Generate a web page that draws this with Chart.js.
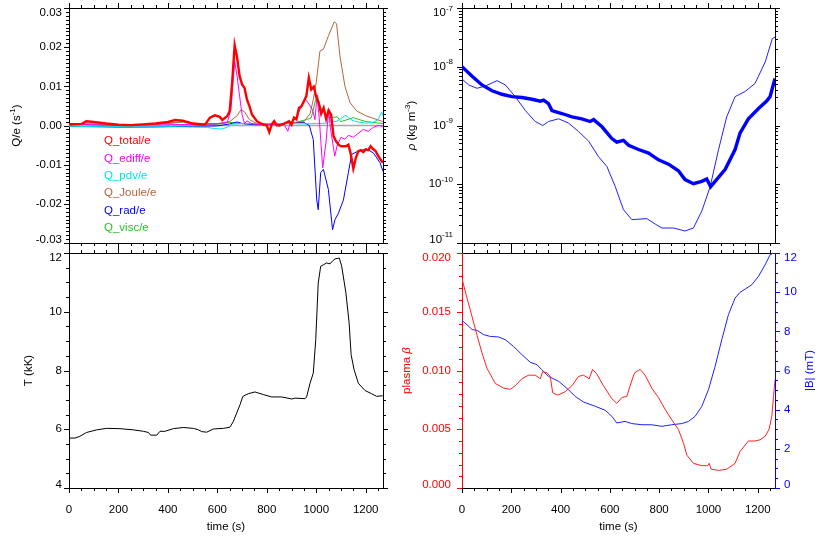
<!DOCTYPE html>
<html>
<head>
<meta charset="utf-8">
<script src="https://cdn.jsdelivr.net/npm/chart.js@4.4.1/dist/chart.umd.min.js"></script>
<style>
  html, body { margin: 0; padding: 0; background: #fff; }
  #wrap { position: relative; width: 830px; height: 544px; overflow: hidden; }
  .panel { position: absolute; }
</style>
</head>
<body>
<div id="wrap">
  <div class="panel" style="left:0;top:0;width:415px;height:250px"><canvas id="cQ"></canvas></div>
  <div class="panel" style="left:395px;top:0;width:435px;height:250px"><canvas id="cRho"></canvas></div>
  <div class="panel" style="left:0;top:245px;width:415px;height:299px"><canvas id="cT"></canvas></div>
  <div class="panel" style="left:395px;top:245px;width:435px;height:299px"><canvas id="cB"></canvas></div>
</div>
<script>
// ── Ticks ──────────────────────────────────────────────────────────────
const timeTicks = [0, 200, 400, 600, 800, 1000, 1200];
const qTicks    = [-0.03, -0.02, -0.01, 0, 0.01, 0.02, 0.03];
const rhoTicks  = [1e-11, 1e-10, 1e-9, 1e-8, 1e-7];
const tempTicks = [4, 6, 8, 10, 12];
const betaTicks = [0, 0.005, 0.01, 0.015, 0.02];
const bTicks    = [0, 2, 4, 6, 8, 10, 12];

// ── Q/e (s^-1) ─────────────────────────────────────────────────────────
const qLabels = ['Q_total/e', 'Q_ediff/e', 'Q_pdv/e', 'Q_Joule/e', 'Q_rad/e', 'Q_visc/e'];

const qTotalT = [0,50,70,100,150,200,250,300,350,400,430,460,500,550,570,590,610,620,640,650,
  660,670,680,690,700,710,720,730,740,760,780,800,810,820,830,840,850,870,890,900,
  910,920,930,940,950,960,970,980,990,1000,1010,1020,1030,1040,1050,1060,1070,1080,1090,1100,
  1110,1120,1130,1140,1150,1160,1170,1180,1190,1200,1210,1220,1230,1240,1250,1260,1270];
const qTotalV = [0.0003,0.0004,0.0011,0.0009,0.0005,0.0002,0.0001,0.0003,0.0005,0.0009,0.0014,0.0012,0.0005,0.0002,0.0020,0.0026,0.0022,0.0014,0.0024,0.0037,
  0.0110,0.0205,0.0173,0.0126,0.0105,0.0096,0.0066,0.0049,0.0028,0.0011,0.0004,0.0000,-0.0017,0.0003,0.0011,0.0001,0.0000,0.0005,0.0011,0.0002,
  0.0020,0.0016,0.0045,0.0049,0.0062,0.0075,0.0122,0.0092,0.0099,0.0073,0.0058,0.0030,0.0045,0.0017,0.0039,0.0028,-0.0027,-0.0040,-0.0049,-0.0053,
  -0.0053,-0.0053,-0.0049,-0.0074,-0.0110,-0.0083,-0.0066,-0.0063,-0.0068,-0.0061,-0.0063,-0.0053,-0.0060,-0.0065,-0.0077,-0.0087,-0.0095];

const qEdiffT = [0,100,200,300,400,500,600,640,655,670,680,690,700,710,720,740,800,870,885,895,
  920,940,955,970,985,995,1003,1012,1026,1040,1050,1058,1075,1085,1100,1115,1130,1150,1170,1190,1210,1230,1250,1270];
const qEdiffV = [0.0003,0.0002,0.0000,0.0001,0.0002,0.0003,0.0004,0.0008,0.0040,0.0164,0.0126,0.0075,0.0028,0.0005,0.0012,0.0004,0.0002,0.0003,-0.0015,0.0008,
  0.0020,0.0050,0.0068,0.0055,0.0040,0.0015,0.0078,0.0020,-0.0108,-0.0040,0.0040,-0.0010,-0.0078,-0.0050,-0.0030,-0.0035,-0.0025,-0.0030,-0.0020,-0.0010,-0.0015,-0.0005,0.0000,-0.0002];

const qPdvT = [0,100,200,300,400,500,560,590,620,640,660,700,800,900,950,1000,1040,1060,1080,1100,1120,1140,1160,1200,1230,1250,1265,1270];
const qPdvV = [-0.0002,-0.0003,-0.0003,-0.0004,-0.0003,-0.0004,-0.0005,-0.0008,-0.0009,-0.0004,0.0003,0.0005,0.0004,0.0005,0.0004,0.0005,0.0006,0.0012,0.0010,0.0018,0.0026,0.0015,0.0010,0.0006,0.0008,0.0015,0.0035,0.0025];

const qJouleT = [0,100,200,300,400,460,520,600,650,680,695,710,730,760,850,950,975,988,1000,1015,
  1029,1050,1073,1082,1096,1116,1137,1164,1204,1269];
const qJouleV = [0.0005,0.0004,0.0002,0.0003,0.0006,0.0010,0.0004,0.0005,0.0010,0.0025,0.0040,0.0035,0.0015,0.0005,0.0004,0.0010,0.0030,0.0066,0.0110,0.0190,
  0.0195,0.0230,0.0265,0.0260,0.0177,0.0100,0.0058,0.0037,0.0024,0.0010];

const qRadT = [0,100,200,300,400,500,600,650,680,700,750,800,850,900,950,972,988,1002,1008,1018,
  1029,1049,1066,1076,1089,1110,1130,1143,1170,1204,1231,1258,1270];
const qRadV = [-0.0002,-0.0003,-0.0004,-0.0004,-0.0003,-0.0002,-0.0001,0.0004,0.0009,0.0005,0.0002,0.0002,0.0004,0.0007,0.0008,0.0000,-0.0036,-0.0190,-0.0215,-0.0120,
  -0.0112,-0.0163,-0.0266,-0.0240,-0.0225,-0.0190,-0.0120,-0.0074,-0.0065,-0.0060,-0.0070,-0.0095,-0.0117];

const qViscT = [0,100,200,300,400,450,480,520,600,650,700,760,900,960,980,995,1005,1015,1030,1050,1085,1100,1150,1200,1270];
const qViscV = [0.0005,0.0002,0.0000,0.0002,0.0005,0.0008,0.0010,0.0003,0.0003,0.0008,0.0005,0.0003,0.0005,0.0015,0.0020,0.0060,0.0078,0.0050,0.0035,0.0020,0.0022,0.0010,0.0020,0.0010,0.0005];

// ── rho (kg m^-3) ──────────────────────────────────────────────────────
const rhoThickT = [0,41,81,122,162,203,243,284,318,331,351,365,405,446,486,520,534,568,608,628,
  655,676,716,757,797,838,878,905,939,973,993,1009,1027,1068,1108,1128,1162,1203,1236,1250,1270];
const rhoThickV = [1.0e-8,6.9e-9,4.9e-9,3.9e-9,3.4e-9,3.1e-9,3.0e-9,2.8e-9,2.6e-9,2.7e-9,2.35e-9,1.8e-9,1.6e-9,1.4e-9,1.3e-9,1.17e-9,1.26e-9,9.5e-10,6.0e-10,5.2e-10,
  5.6e-10,4.6e-10,3.9e-10,3.4e-10,2.6e-10,2.2e-10,1.7e-10,1.2e-10,1.02e-10,1.12e-10,1.23e-10,9.1e-11,1.12e-10,1.8e-10,3.9e-10,7.4e-10,1.3e-9,1.95e-9,2.6e-9,3.1e-9,6.3e-9];

const rhoThinT = [0,27,61,95,142,176,216,257,297,328,351,392,432,473,514,554,588,622,655,689,
  750,784,811,858,905,939,973,1007,1041,1074,1108,1149,1189,1230,1259,1270];
const rhoThinV = [6.2e-9,4.9e-9,4.3e-9,4.7e-9,5.8e-9,4.9e-9,3.1e-9,1.8e-9,1.17e-9,1.0e-9,1.17e-9,1.3e-9,1.1e-9,7.9e-10,5.4e-10,2.95e-10,2.0e-10,9.1e-11,3.7e-11,2.5e-11,
  2.6e-11,2.1e-11,1.8e-11,1.8e-11,1.6e-11,1.8e-11,3.5e-11,9.1e-11,3.9e-10,1.4e-9,3.1e-9,3.8e-9,5.2e-9,1.2e-8,3.0e-8,3.2e-8];

// ── T (kK) ─────────────────────────────────────────────────────────────
const tempT = [0,24,44,71,112,152,206,260,301,321,330,355,368,388,422,462,503,523,537,557,
  584,624,651,665,678,692,703,725,752,786,820,860,901,914,955,961,975,988,998,1008,
  1018,1029,1042,1056,1065,1076,1093,1103,1120,1133,1141,1153,1170,1197,1224,1244,1269];
const tempV = [5.70,5.70,5.76,5.89,5.98,6.03,6.02,5.98,5.93,5.89,5.80,5.80,5.93,5.93,6.02,6.06,6.03,5.98,5.92,5.90,
  6.01,6.03,6.07,6.27,6.55,6.84,7.12,7.21,7.27,7.18,7.10,7.10,7.03,7.06,7.04,7.10,7.57,7.91,9.05,10.98,
  11.55,11.60,11.66,11.63,11.72,11.80,11.83,11.55,10.64,9.62,8.54,8.03,7.57,7.32,7.21,7.12,7.14];

// ── plasma beta / |B| (mT) ─────────────────────────────────────────────
const betaT = [0,16,38,61,81,101,135,169,196,216,243,270,297,318,327,345,358,368,389,419,
  446,473,493,516,530,547,574,608,628,649,669,682,700,723,743,770,797,824,851,878,
  899,912,939,973,997,1003,1011,1041,1074,1108,1128,1162,1189,1209,1230,1246,1257,1264,1270];
const betaV = [0.0178,0.0165,0.0148,0.0130,0.0115,0.0102,0.0089,0.0085,0.0084,0.0087,0.0093,0.0096,0.0096,0.0093,0.0099,0.0098,0.0095,0.0081,0.0079,0.0082,
  0.0087,0.0095,0.0096,0.0093,0.0101,0.0097,0.0087,0.0076,0.0072,0.0077,0.0078,0.0087,0.0098,0.0101,0.0096,0.0085,0.0077,0.0067,0.0058,0.0050,
  0.0038,0.0028,0.0021,0.0019,0.0019,0.0021,0.0016,0.0015,0.0016,0.0021,0.0031,0.0040,0.0040,0.0041,0.0044,0.0050,0.0061,0.0078,0.0092];

const bFieldT = [0,20,41,61,88,115,149,176,209,243,277,304,324,351,392,432,459,493,541,581,
  608,628,662,689,730,770,811,851,892,919,946,973,1000,1027,1054,1081,1108,1128,1149,1176,
  1203,1230,1250,1264,1270];
const bFieldV = [8.56,8.34,8.09,8.05,7.83,7.74,7.71,7.57,7.23,6.81,6.42,6.30,6.04,5.70,5.45,5.02,4.68,4.39,4.17,3.97,
  3.66,3.32,3.40,3.29,3.23,3.23,3.15,3.23,3.29,3.40,3.66,4.17,5.02,6.21,7.57,8.85,9.70,9.99,10.16,10.38,
  10.81,11.40,11.91,12.0,12.0];

// ── Estilo ─────────────────────────────────────────────────────────────
const FAMILY = '"Liberation Sans", Arial, Helvetica, sans-serif';
const SIZE = 11.5;
const pts = (t, v) => t.map((x, i) => ({ x, y: v[i] }));

function fontOf(p) {
  return (p.it ? 'italic ' : '') + (p.sup ? 8 : SIZE) + 'px ' + FAMILY;
}

// Texto por partes (cursiva / superíndice), opcionalmente rotado
function drawParts(ctx, x, y, parts, color, rot, align) {
  ctx.save();
  ctx.translate(x, y);
  if (rot) ctx.rotate(rot);
  ctx.fillStyle = color;
  ctx.textBaseline = 'middle';
  ctx.textAlign = 'left';
  const widths = parts.map(p => { ctx.font = fontOf(p); return ctx.measureText(p.t).width; });
  const w = widths.reduce((a, b) => a + b, 0);
  let cx = align === 'right' ? -w : align === 'left' ? 0 : -w / 2;
  parts.forEach((p, i) => {
    ctx.font = fontOf(p);
    ctx.fillText(p.t, cx, p.sup ? -4.5 : 0);
    cx += widths[i];
  });
  ctx.restore();
}

function tickValues(s, spec) {
  const out = [];
  if (spec.log) {
    const e0 = Math.round(Math.log10(s.min)), e1 = Math.round(Math.log10(s.max));
    for (let e = e0; e < e1; e++)
      for (let k = 1; k <= 9; k++) out.push([k * Math.pow(10, e), k === 1]);
    out.push([s.max, true]);
  } else {
    const n = Math.round((s.max - s.min) / spec.minor + 1e-9);
    for (let i = 0; i <= n; i++) {
      const v = s.min + i * spec.minor;
      const r = v / spec.major;
      out.push([v, Math.abs(r - Math.round(r)) < 1e-6]);
    }
  }
  return out;
}

// Plugin: marcas mayores/menores hacia afuera, etiquetas Y, títulos y leyenda
const idlPlugin = {
  id: 'idl',
  beforeDatasetsDraw(chart, args, o) {
    if (!o.zero) return;
    const s = chart.scales.y, a = chart.chartArea, ctx = chart.ctx;
    const y = s.getPixelForValue(0);
    ctx.save();
    ctx.strokeStyle = '#a8a8a8';
    ctx.lineWidth = 1.6;
    ctx.beginPath(); ctx.moveTo(a.left, y); ctx.lineTo(a.right, y); ctx.stroke();
    ctx.restore();
  },
  afterDraw(chart, args, o) {
    const ctx = chart.ctx;
    (o.ticks || []).forEach(spec => {
      const s = chart.scales[spec.id];
      ctx.save();
      ctx.strokeStyle = spec.color || '#000';
      ctx.lineWidth = 1;
      ctx.beginPath();
      tickValues(s, spec).forEach(([v, major]) => {
        const p = Math.round(s.getPixelForValue(v)) + 0.5;
        const len = major ? 5 : 3;
        if (s.position === 'bottom') { ctx.moveTo(p, s.top); ctx.lineTo(p, s.top + len); }
        else if (s.position === 'top') { ctx.moveTo(p, s.bottom); ctx.lineTo(p, s.bottom - len); }
        else if (s.position === 'left') { ctx.moveTo(s.right, p); ctx.lineTo(s.right - len, p); }
        else { ctx.moveTo(s.left, p); ctx.lineTo(s.left + len, p); }
      });
      ctx.stroke();
      ctx.restore();
    });
    (o.labels || []).forEach(spec => {
      const s = chart.scales[spec.id];
      s.ticks.forEach(t => {
        const p = s.getPixelForValue(t.value);
        const y = Math.min(Math.max(p, s.top + 5), s.bottom - 3.5);
        const parts = spec.fmt(t.value);
        if (s.position === 'left') drawParts(ctx, s.right - spec.gap, y, parts, spec.color, 0, 'right');
        else drawParts(ctx, s.left + spec.gap, y, parts, spec.color, 0, 'left');
      });
    });
    (o.titles || []).forEach(t => drawParts(ctx, t.x, t.y, t.parts, t.color, t.rot, 'center'));
    if (o.legend) {
      chart.data.datasets.forEach((d, i) => {
        drawParts(ctx, o.legend.x, o.legend.y + i * o.legend.dy, [{ t: d.label }], d.borderColor, 0, 'left');
      });
    }
  }
};
Chart.register(idlPlugin);

// Eje genérico con tamaño fijo para alinear los cuatro paneles
function axis(pos, min, max, tickVals, size, extra) {
  const e = extra || {};
  return {
    type: e.type || 'linear',
    position: pos,
    min, max,
    afterBuildTicks: s => { s.ticks = tickVals.map(v => ({ value: v })); },
    afterFit: s => {
      if (pos === 'left' || pos === 'right') s.width = size; else s.height = size;
    },
    grid: { display: false, drawTicks: false },
    border: { color: e.color || '#000', width: 1 },
    ticks: {
      display: !!e.labels,
      color: '#000',
      font: { family: FAMILY, size: SIZE },
      padding: 15,
      maxRotation: 0,
      autoSkip: false,
      callback: v => String(v),
    },
  };
}

function line(label, data, color, width, yAxisID) {
  return {
    label, data,
    borderColor: color,
    backgroundColor: color,
    borderWidth: width,
    pointRadius: 0,
    tension: 0,
    fill: false,
    yAxisID: yAxisID || 'y',
  };
}

const baseOptions = {
  responsive: true,
  maintainAspectRatio: false,
  animation: false,
  layout: { padding: 0 },
  parsing: true,
  plugins: { legend: { display: false }, tooltip: { enabled: false } },
};

const xSpec = { major: 200, minor: 50 };
const HALF = -Math.PI / 2;

// ── Panel 1: Q/e ───────────────────────────────────────────────────────
new Chart(document.getElementById('cQ'), {
  type: 'line',
  data: {
    datasets: [
      line(qLabels[0], pts(qTotalT, qTotalV), '#ff0000', 2.4),
      line(qLabels[1], pts(qEdiffT, qEdiffV), '#ff00ff', 1),
      line(qLabels[2], pts(qPdvT, qPdvV), '#00e5e5', 1),
      line(qLabels[3], pts(qJouleT, qJouleV), '#b4643c', 1),
      line(qLabels[4], pts(qRadT, qRadV), '#0000ff', 1),
      line(qLabels[5], pts(qViscT, qViscV), '#22c322', 1),
    ],
  },
  options: {
    ...baseOptions,
    scales: {
      x: axis('bottom', 0, 1270, timeTicks, 7),
      xTop: axis('top', 0, 1270, timeTicks, 8),
      y: axis('left', -0.03, 0.03, qTicks, 69),
      yR: axis('right', -0.03, 0.03, qTicks, 32),
    },
    plugins: {
      ...baseOptions.plugins,
      idl: {
        zero: true,
        ticks: [
          { id: 'x', ...xSpec }, { id: 'xTop', ...xSpec },
          { id: 'y', major: 0.01, minor: 0.001 }, { id: 'yR', major: 0.01, minor: 0.001 },
        ],
        labels: [{ id: 'y', gap: 7, color: '#000', fmt: v => [{ t: v.toFixed(2) }] }],
        titles: [{ x: 17, y: 125.5, rot: HALF, color: '#000',
          parts: [{ t: 'Q/e (s' }, { t: '-1', sup: true }, { t: ')' }] }],
        legend: { x: 104, y: 141, dy: 17.4 },
      },
    },
  },
});

// ── Panel 2: rho ───────────────────────────────────────────────────────
new Chart(document.getElementById('cRho'), {
  type: 'line',
  data: {
    datasets: [
      line('rho thick', pts(rhoThickT, rhoThickV), '#0000ff', 3.4),
      line('rho thin', pts(rhoThinT, rhoThinV), '#2020ff', 1),
    ],
  },
  options: {
    ...baseOptions,
    scales: {
      x: axis('bottom', 0, 1270, timeTicks, 7),
      xTop: axis('top', 0, 1270, timeTicks, 8),
      y: axis('left', 1e-11, 1e-7, rhoTicks, 67, { type: 'logarithmic' }),
      yR: axis('right', 1e-11, 1e-7, rhoTicks, 55, { type: 'logarithmic' }),
    },
    plugins: {
      ...baseOptions.plugins,
      idl: {
        ticks: [
          { id: 'x', ...xSpec }, { id: 'xTop', ...xSpec },
          { id: 'y', log: true }, { id: 'yR', log: true },
        ],
        labels: [{ id: 'y', gap: 9, color: '#000',
          fmt: v => [{ t: '10' }, { t: String(Math.round(Math.log10(v))), sup: true }] }],
        titles: [{ x: 17, y: 125.5, rot: HALF, color: '#000',
          parts: [{ t: 'ρ', it: true }, { t: ' (kg m' }, { t: '-3', sup: true }, { t: ')' }] }],
      },
    },
  },
});

// ── Panel 3: T ─────────────────────────────────────────────────────────
new Chart(document.getElementById('cT'), {
  type: 'line',
  data: { datasets: [line('T', pts(tempT, tempV), '#000000', 1)] },
  options: {
    ...baseOptions,
    scales: {
      x: axis('bottom', 0, 1270, timeTicks, 56, { labels: true }),
      xTop: axis('top', 0, 1270, timeTicks, 8),
      y: axis('left', 4, 12, tempTicks, 69),
      yR: axis('right', 4, 12, tempTicks, 32),
    },
    plugins: {
      ...baseOptions.plugins,
      idl: {
        ticks: [
          { id: 'x', ...xSpec }, { id: 'xTop', ...xSpec },
          { id: 'y', major: 2, minor: 0.5 }, { id: 'yR', major: 2, minor: 0.5 },
        ],
        labels: [{ id: 'y', gap: 7, color: '#000', fmt: v => [{ t: String(v) }] }],
        titles: [
          { x: 29, y: 125.5, rot: HALF, color: '#000', parts: [{ t: 'T (kK)' }] },
          { x: 226, y: 281.5, rot: 0, color: '#000', parts: [{ t: 'time (s)' }] },
        ],
      },
    },
  },
});

// ── Panel 4: plasma beta / |B| ─────────────────────────────────────────
new Chart(document.getElementById('cB'), {
  type: 'line',
  data: {
    datasets: [
      line('plasma beta', pts(betaT, betaV), '#ff2020', 1, 'y'),
      line('|B|', pts(bFieldT, bFieldV), '#2020ff', 1, 'yR'),
    ],
  },
  options: {
    ...baseOptions,
    scales: {
      x: axis('bottom', 0, 1270, timeTicks, 56, { labels: true }),
      xTop: axis('top', 0, 1270, timeTicks, 8),
      y: axis('left', 0, 0.02, betaTicks, 67, { color: '#ff0000' }),
      yR: axis('right', 0, 12, bTicks, 55, { color: '#0000ff' }),
    },
    plugins: {
      ...baseOptions.plugins,
      idl: {
        ticks: [
          { id: 'x', ...xSpec }, { id: 'xTop', ...xSpec },
          { id: 'y', major: 0.005, minor: 0.001, color: '#ff0000' },
          { id: 'yR', major: 2, minor: 0.5, color: '#0000ff' },
        ],
        labels: [
          { id: 'y', gap: 11, color: '#ff0000', fmt: v => [{ t: v.toFixed(3) }] },
          { id: 'yR', gap: 9, color: '#0000ff', fmt: v => [{ t: String(v) }] },
        ],
        titles: [
          { x: 12, y: 125.5, rot: HALF, color: '#ff0000', parts: [{ t: 'plasma ' }, { t: 'β', it: true }] },
          { x: 415, y: 125.5, rot: HALF, color: '#0000ff', parts: [{ t: '|B| (mT)' }] },
          { x: 223.5, y: 281.5, rot: 0, color: '#000', parts: [{ t: 'time (s)' }] },
        ],
      },
    },
  },
});
</script>
</body>
</html>
